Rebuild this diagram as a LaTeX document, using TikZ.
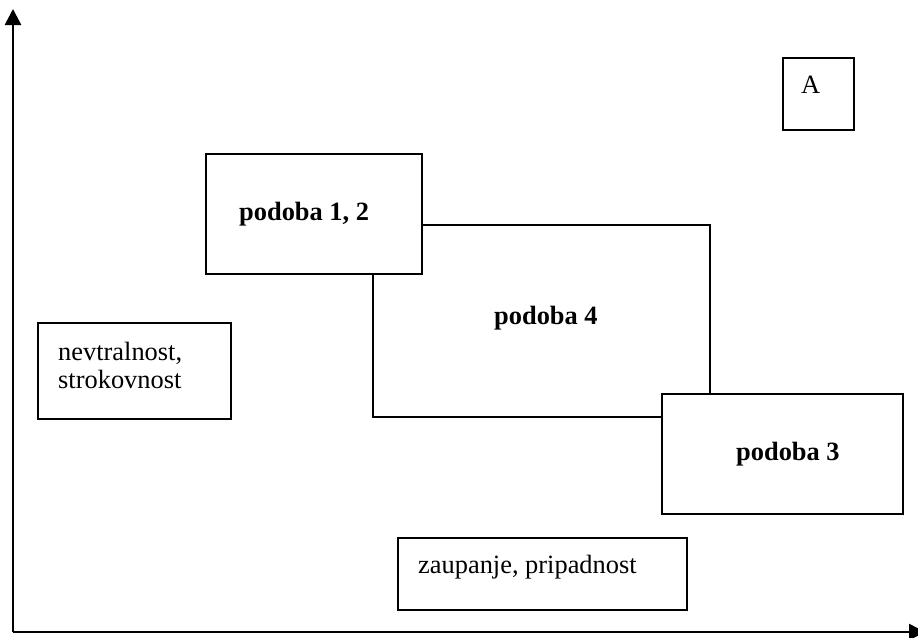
\documentclass[tikz,border=0pt]{standalone}
\usepackage{fontspec}
\setmainfont{Liberation Serif}
\usetikzlibrary{arrows.meta}
\begin{document}
\begin{tikzpicture}[x=1pt,y=-1pt,
  box/.style={draw=black,line width=2pt,fill=white},
  txt/.style={anchor=base west,inner sep=0pt,font=\fontsize{26.4}{28}\selectfont},
  btxt/.style={txt,font=\fontsize{26.4}{28}\selectfont\bfseries},
  axis/.style={line width=2.7pt,-{Triangle[length=16pt,width=16pt]}}]
\useasboundingbox (0,0) rectangle (918,637);
\coordinate (O) at (13,632);
\coordinate (Ytop) at (13,9);
\coordinate (Xend) at (925,632);
\draw[axis] (O) -- (Ytop);
\draw[axis] (O) -- (Xend);
% boxes
\draw[box] (373,225) rectangle (710,417);
\node[box,inner sep=0pt,anchor=north west,minimum width=216pt,minimum height=120pt] (p12) at (205,153) {};
\node[box,inner sep=0pt,anchor=north west,minimum width=241pt,minimum height=120pt] (p3) at (661,393) {};
\node[box,inner sep=0pt,anchor=north west,minimum width=71pt,minimum height=72pt] (A) at (782,57) {};
\node[box,inner sep=0pt,anchor=north west,minimum width=193pt,minimum height=96pt] (nev) at (37,322) {};
\node[box,inner sep=0pt,anchor=north west,minimum width=289pt,minimum height=72pt] (zau) at (397,537) {};
% texts
\node[txt] (tA) at (801,93) {A};
\node[btxt] (t12) at (239,220) {podoba 1, 2};
\node[btxt] (t4) at (494,324) {podoba 4};
\node[btxt] (t3) at (736,460) {podoba 3};
\node[txt] (tn1) at (58,360) {nevtralnost,};
\node[txt] (tn2) at (58,388) {strokovnost};
\node[txt] (tz) at (418,573) {zaupanje, pripadnost};
\end{tikzpicture}
\end{document}
